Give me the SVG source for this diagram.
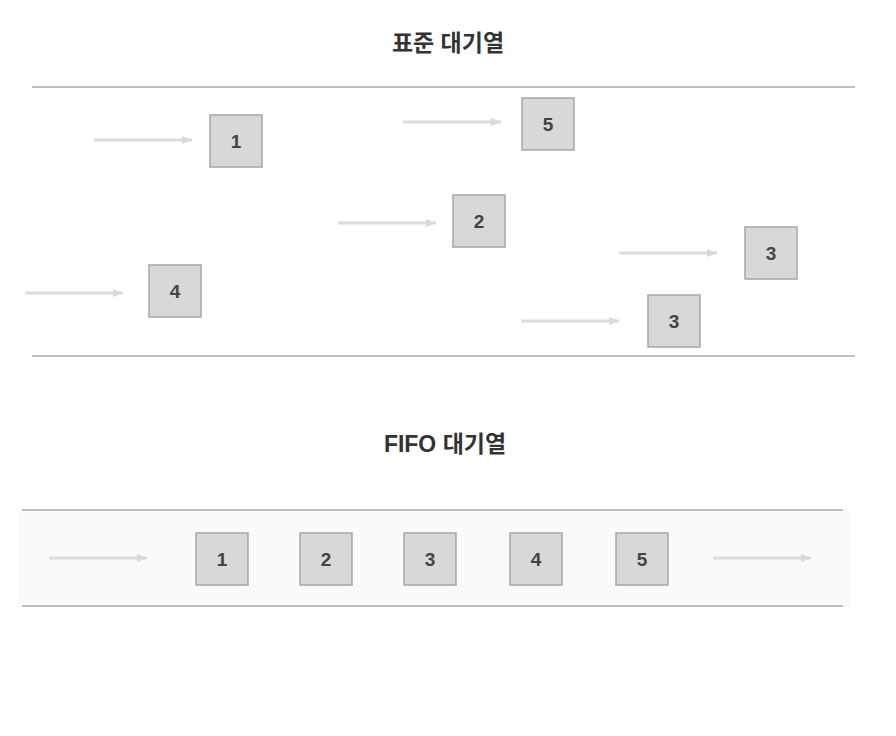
<svg xmlns="http://www.w3.org/2000/svg" width="896" height="736" viewBox="0 0 896 736">
<defs>
<marker id="ah" markerWidth="10" markerHeight="8" refX="10" refY="4" orient="auto" markerUnits="userSpaceOnUse"><path d="M0,0 L10,4 L0,8 Z" fill="#d9d9d9"/></marker>
<style>
.b{fill:#d8d8d8;stroke:#a6a6a6;stroke-width:1.5}
.t{font-family:"Liberation Sans",Arial,sans-serif;font-weight:bold;font-size:19px;fill:#444;text-anchor:middle;dominant-baseline:central}
.a{stroke:#dcdcdc;stroke-width:3;fill:none;marker-end:url(#ah)}
.l{stroke:#aaa;stroke-width:1.5}
.h{font-family:"Liberation Sans","Noto Sans CJK KR",sans-serif;font-weight:bold;font-size:23px;fill:#333;text-anchor:middle}
</style>
</defs>
<rect width="896" height="736" fill="#fff"/>
<text class="h" x="448" y="51">표준 대기열</text>
<text class="h" x="445" y="452">FIFO 대기열</text>
<rect x="18" y="510" width="832" height="96" fill="#fafafa"/>
<g id="lines">
<line class="l" x1="32" y1="87" x2="855" y2="87"/>
<line class="l" x1="32" y1="356" x2="855" y2="356"/>
<line class="l" x1="22" y1="510" x2="843" y2="510"/>
<line class="l" x1="22" y1="606" x2="843" y2="606"/>
</g>
<g id="connectors">
<line class="a" x1="94" y1="140" x2="192" y2="140"/>
<line class="a" x1="403" y1="122" x2="501" y2="122"/>
<line class="a" x1="338" y1="223" x2="436" y2="223"/>
<line class="a" x1="619" y1="253" x2="717" y2="253"/>
<line class="a" x1="25" y1="293" x2="123" y2="293"/>
<line class="a" x1="521" y1="321" x2="619" y2="321"/>
<line class="a" x1="49" y1="558" x2="147" y2="558"/>
<line class="a" x1="713" y1="558" x2="811" y2="558"/>
</g>
<g id="s1"><rect class="b" x="210" y="115" width="52" height="52"/><text class="t" x="236" y="141">1</text></g>
<g id="s5"><rect class="b" x="522" y="98" width="52" height="52"/><text class="t" x="548" y="124">5</text></g>
<g id="s2"><rect class="b" x="453" y="195" width="52" height="52"/><text class="t" x="479" y="221">2</text></g>
<g id="s3a"><rect class="b" x="745" y="227" width="52" height="52"/><text class="t" x="771" y="253">3</text></g>
<g id="s4"><rect class="b" x="149" y="265" width="52" height="52"/><text class="t" x="175" y="291">4</text></g>
<g id="s3b"><rect class="b" x="648" y="295" width="52" height="52"/><text class="t" x="674" y="321">3</text></g>
<g id="f1"><rect class="b" x="196" y="533" width="52" height="52"/><text class="t" x="222" y="559">1</text></g>
<g id="f2"><rect class="b" x="300" y="533" width="52" height="52"/><text class="t" x="326" y="559">2</text></g>
<g id="f3"><rect class="b" x="404" y="533" width="52" height="52"/><text class="t" x="430" y="559">3</text></g>
<g id="f4"><rect class="b" x="510" y="533" width="52" height="52"/><text class="t" x="536" y="559">4</text></g>
<g id="f5"><rect class="b" x="616" y="533" width="52" height="52"/><text class="t" x="642" y="559">5</text></g>
</svg>
